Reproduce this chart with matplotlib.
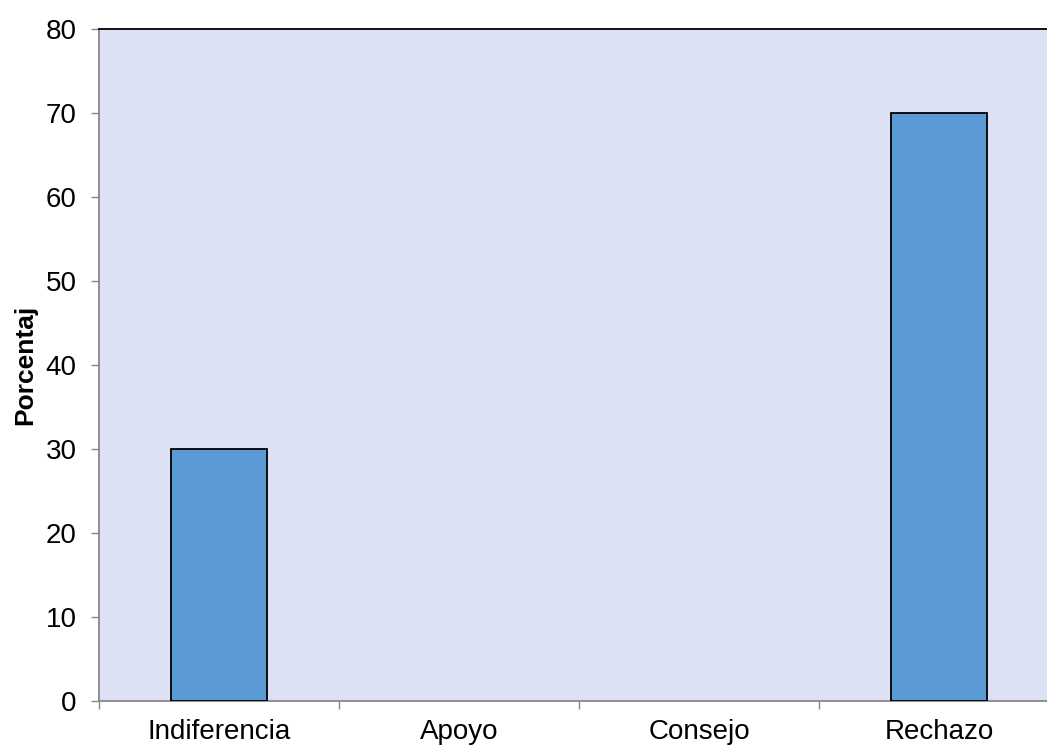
import matplotlib
matplotlib.use("Agg")
import matplotlib.pyplot as plt
import numpy as np

categories = ["Indiferencia", "Apoyo", "Consejo", "Rechazo"]
values = [30, 0, 0, 70]
yticks = [0, 10, 20, 30, 40, 50, 60, 70, 80]

plt.rcParams['font.family'] = ['Liberation Sans', 'DejaVu Sans']

fig = plt.figure(figsize=(10.47, 7.5), dpi=100)
ax = fig.add_axes([99/1047, 49/750, 960/1047, 672/750])
ax.set_facecolor('#DCE1F3')

x = np.arange(len(categories))
lws = [1.3 if v > 0 else 0 for v in values]
ax.bar(x, values, width=0.4, color='#5B9BD5', edgecolor='black', linewidth=lws, zorder=3)

ax.set_xlim(-0.5, len(categories) - 0.5)
ax.set_ylim(0, 80)
ax.set_yticks(yticks)
ax.set_yticklabels([str(v) for v in yticks], fontsize=20)

ax.set_xticks(x)
ax.set_xticklabels(categories, fontsize=20)
ax.tick_params(axis='x', length=0, pad=13)
ax.set_xticks(np.arange(len(categories) + 1) - 0.5, minor=True)
ax.tick_params(axis='x', which='minor', length=6, color='#888888', width=1)
ax.tick_params(axis='y', length=6, color='#888888', width=1, pad=10)

for side in ['left', 'bottom']:
    ax.spines[side].set_color('#888888')
    ax.spines[side].set_linewidth(1.3)
ax.spines['top'].set_color('black')
ax.spines['top'].set_linewidth(1.3)
ax.spines['right'].set_visible(False)

ax.set_ylabel('Porcentaj', fontsize=19, fontweight='bold', labelpad=6)

fig.savefig('out.png', dpi=100)
